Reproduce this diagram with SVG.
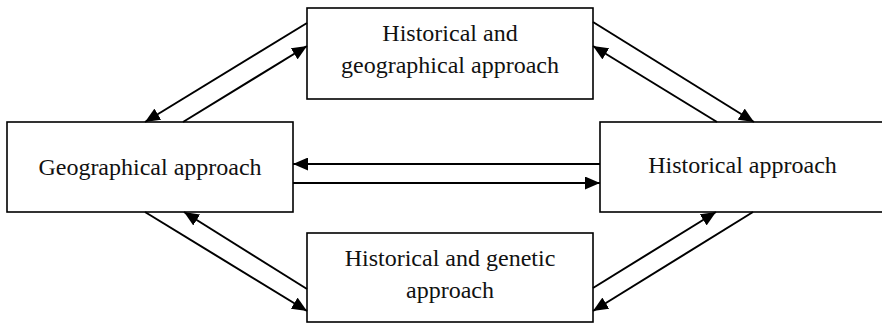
<svg xmlns="http://www.w3.org/2000/svg" width="882" height="324" viewBox="0 0 882 324">
<style>
.box{fill:#fff;stroke:#000;stroke-width:1.6}
.lbl{font-family:"Liberation Serif","Times New Roman",serif;font-size:24px;fill:#111;text-anchor:middle}
.conn line{stroke:#000;stroke-width:2;fill:none;marker-end:url(#ah)}
</style>
<defs>
<marker id="ah" markerUnits="userSpaceOnUse" markerWidth="16" markerHeight="13" refX="15" refY="6.5" orient="auto">
<path d="M0,0 L15,6.5 L0,13 z" fill="#000"/>
</marker>
</defs>
<rect width="882" height="324" fill="#fff"/>
<g id="geo">
<rect class="box" x="7" y="122" width="286" height="90"/>
<text class="lbl" x="150" y="175">Geographical approach</text>
</g>
<g id="hist">
<rect class="box" x="600" y="122" width="290" height="90"/>
<text class="lbl" x="742.5" y="173">Historical approach</text>
</g>
<g id="histgeo">
<rect class="box" x="307" y="8" width="286" height="91"/>
<text class="lbl" x="450" y="41">Historical and</text>
<text class="lbl" x="450" y="73">geographical approach</text>
</g>
<g id="histgen">
<rect class="box" x="307" y="233" width="286" height="89"/>
<text class="lbl" x="450" y="266">Historical and genetic</text>
<text class="lbl" x="450" y="298">approach</text>
</g>
<g id="connectors" class="conn">
<line x1="307" y1="23" x2="145" y2="122"/>
<line x1="183" y1="122" x2="307" y2="46"/>
<line x1="593" y1="22" x2="754" y2="122"/>
<line x1="717" y1="122" x2="593" y2="46"/>
<line x1="145" y1="212" x2="307" y2="311"/>
<line x1="307" y1="289" x2="184" y2="212"/>
<line x1="753" y1="212" x2="593" y2="311"/>
<line x1="593" y1="288" x2="716" y2="212"/>
<line x1="600" y1="164" x2="293" y2="164"/>
<line x1="293" y1="183" x2="600" y2="183"/>
</g>
</svg>
